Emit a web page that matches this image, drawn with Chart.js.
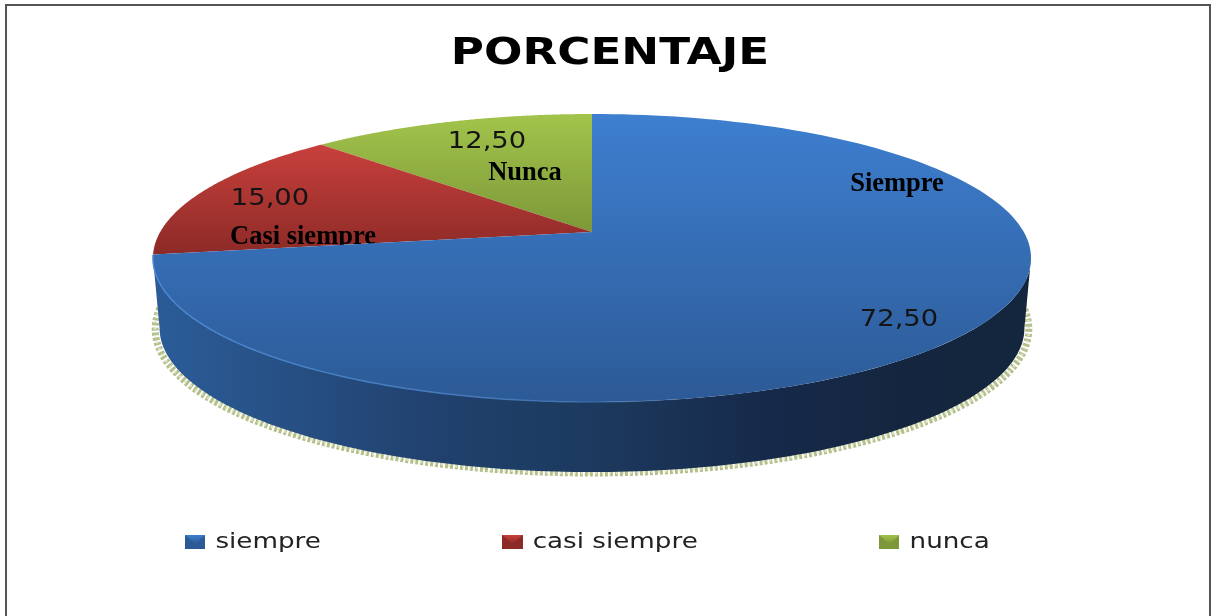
<!DOCTYPE html>
<html>
<head>
<meta charset="utf-8">
<title>PORCENTAJE</title>
<script src="https://cdn.jsdelivr.net/npm/chart.js@4"></script>
<style>
    html, body { margin: 0; padding: 0; background: #fff; overflow: hidden; }
    canvas { display: block; }
    #frame { position: absolute; left: 5px; top: 4px; width: 1202px; height: 640px; border: 2px solid #555; pointer-events: none; }
</style>
</head>
<body>
<canvas id="pieChart" width="1213" height="616"></canvas>
<div id="frame"></div>
<script>
const categories = ['siempre', 'casi siempre', 'nunca'];
const sliceNames = ['Siempre', 'Casi siempre', 'Nunca'];
const percentages = [72.5, 15, 12.5];
const sliceColors = ['#3570b5', '#ab3432', '#8fae3f'];

// vertical gradients of the top face, [top, bottom]
const faceShades = [['#3e7fd0', '#2c5a96'], ['#c8403c', '#8c2a27'], ['#a2c44b', '#7c9838']];
// label centres on the canvas
const valueLabelPos = [[899, 320], [270, 199], [487, 142]];
const nameLabelPos = [[897, 184], [303, 237], [525, 173]];

// perspective of the tilted disc
const apex = { x: 592, y: 232 };
const persp = { a: 431.8, b: 139.3, k: 0.1806 };
const depth = 70;
const bottomShrink = 0.985;
// the original picture was stretched sideways, so the text is too
const stretch = 1.19;

function project(t) {
    const w = 1 - persp.k * Math.sin(t);
    return { x: apex.x + persp.a * Math.cos(t) / w, y: apex.y + persp.b * Math.sin(t) / w };
}

function traceRim(ctx, from, to, dx, dy, sx, first) {
    const n = 160;
    for (let i = 0; i <= n; i++) {
        const p = project(from + (to - from) * i / n);
        const x = apex.x + (p.x - apex.x) * sx + dx;
        const y = p.y + dy;
        if (i === 0 && first) ctx.moveTo(x, y); else ctx.lineTo(x, y);
    }
}

function drawWall(ctx) {
    const t0 = Math.asin(persp.k);
    const t1 = Math.PI - t0;

    // speckled shadow under the wall
    ctx.save();
    ctx.beginPath();
    traceRim(ctx, t0 - 0.2, t1 + 0.2, 0, depth + 1, 0.995, true);
    ctx.lineWidth = 7;
    ctx.strokeStyle = '#b4c08a';
    ctx.setLineDash([3, 2]);
    ctx.stroke();
    ctx.strokeStyle = 'rgba(225,230,205,0.9)';
    ctx.lineWidth = 3;
    ctx.setLineDash([2, 5]);
    ctx.stroke();
    ctx.restore();

    const wall = ctx.createLinearGradient(155, 0, 1030, 0);
    wall.addColorStop(0, '#2b5c98');
    wall.addColorStop(0.16, '#264f83');
    wall.addColorStop(0.32, '#21416e');
    wall.addColorStop(0.5, '#1c3a5e');
    wall.addColorStop(0.7, '#16294a');
    wall.addColorStop(0.85, '#14263f');
    wall.addColorStop(1, '#14253e');
    ctx.beginPath();
    traceRim(ctx, t0, t1, 0, 0, 1, true);
    traceRim(ctx, t1, t0, 0, depth, bottomShrink, false);
    ctx.closePath();
    ctx.fillStyle = wall;
    ctx.fill();
}

function drawSlice(ctx, arc, shades) {
    const start = arc.startAngle;
    const end = arc.endAngle;
    ctx.beginPath();
    ctx.moveTo(apex.x, apex.y);
    traceRim(ctx, start, end, 0, 0, 1, false);
    ctx.closePath();
    let top = apex.y, bottom = apex.y;
    for (let i = 0; i <= 60; i++) {
        const y = project(start + (end - start) * i / 60).y;
        top = Math.min(top, y);
        bottom = Math.max(bottom, y);
    }
    const fill = ctx.createLinearGradient(0, top, 0, bottom);
    fill.addColorStop(0, shades[0]);
    fill.addColorStop(1, shades[1]);
    ctx.fillStyle = fill;
    ctx.fill();
}

function drawRimLight(ctx, arc) {
    const rim = ctx.createLinearGradient(155, 0, 720, 0);
    rim.addColorStop(0, '#4a88d0');
    rim.addColorStop(0.6, '#4478b8');
    rim.addColorStop(1, 'rgba(60,110,170,0)');
    ctx.beginPath();
    traceRim(ctx, Math.PI * 0.45, arc.endAngle, 0, 0, 1, true);
    ctx.strokeStyle = rim;
    ctx.lineWidth = 1.5;
    ctx.stroke();
}

function drawLabels(ctx, i, value) {
    ctx.textAlign = 'center';
    ctx.textBaseline = 'middle';
    ctx.save();
    ctx.translate(valueLabelPos[i][0], valueLabelPos[i][1]);
    ctx.scale(stretch, 1);
    ctx.fillStyle = '#141414';
    ctx.font = '23px "DejaVu Sans"';
    ctx.fillText(value.toFixed(2).replace('.', ','), 0, 0);
    ctx.restore();
    ctx.fillStyle = '#000';
    ctx.font = 'bold 26.5px "Liberation Serif"';
    ctx.fillText(sliceNames[i], nameLabelPos[i][0], nameLabelPos[i][1]);
}

const tiltedPie = {
    id: 'tiltedPie',
    afterLayout(chart) {
        // wide gaps between legend items without the legend eating the layout
        const legend = chart.legend;
        const gap = 155;
        legend.options.labels.padding = gap;
        legend.left = 3;
        legend.top = 531 - gap;
        chart.titleBlock.left = 0;
        chart.titleBlock.right = 2 * 610 / stretch;
    },
    beforeDraw(chart) {
        chart.ctx.save();
        chart.ctx.scale(stretch, 1);
    },
    beforeDatasetsDraw(chart) {
        chart.ctx.restore();
    },
    beforeDatasetDraw(chart, args) {
        const ctx = chart.ctx;
        const arcs = args.meta.data;
        ctx.save();
        drawWall(ctx);
        for (let i = arcs.length - 1; i >= 0; i--) {
            drawSlice(ctx, arcs[i], faceShades[i]);
            if (i === 0) drawRimLight(ctx, arcs[0]);
            drawLabels(ctx, i, percentages[i]);
        }
        ctx.restore();
        return false;
    }
};

function legendIcon(shades) {
    const c = document.createElement('canvas');
    c.width = 17;
    c.height = 14;
    const g = c.getContext('2d');
    g.fillStyle = shades[1];
    g.fillRect(0, 0, 17, 14);
    const flap = g.createLinearGradient(0, 0, 0, 9);
    flap.addColorStop(0, shades[0]);
    flap.addColorStop(1, shades[1]);
    g.fillStyle = flap;
    g.beginPath();
    g.moveTo(0, 0);
    g.lineTo(17, 0);
    g.lineTo(8.5, 9);
    g.closePath();
    g.fill();
    return c;
}

function initChart() {
    const ctx = document.getElementById('pieChart');
    new Chart(ctx, {
        type: 'pie',
        data: {
            labels: categories,
            datasets: [{
                data: percentages,
                backgroundColor: sliceColors,
                borderWidth: 0
            }]
        },
        options: {
            responsive: false,
            animation: false,
            plugins: {
                title: {
                    display: true,
                    text: 'PORCENTAJE',
                    color: '#000',
                    font: { family: '"DejaVu Sans"', size: 38, weight: 'bold' },
                    padding: { top: 31, bottom: 10 }
                },
                legend: {
                    position: 'bottom',
                    align: 'start',
                    labels: {
                        color: '#222',
                        font: { family: '"DejaVu Sans"', size: 22 },
                        usePointStyle: true,
                        pointStyleWidth: 12,
                        padding: 10,
                        generateLabels(chart) {
                            return Chart.overrides.pie.plugins.legend.labels.generateLabels(chart)
                                .map((item, i) => ({ ...item, pointStyle: legendIcon(faceShades[i]) }));
                        }
                    }
                },
                tooltip: { enabled: false }
            }
        },
        plugins: [tiltedPie]
    });
}

initChart();
</script>
</body>
</html>
